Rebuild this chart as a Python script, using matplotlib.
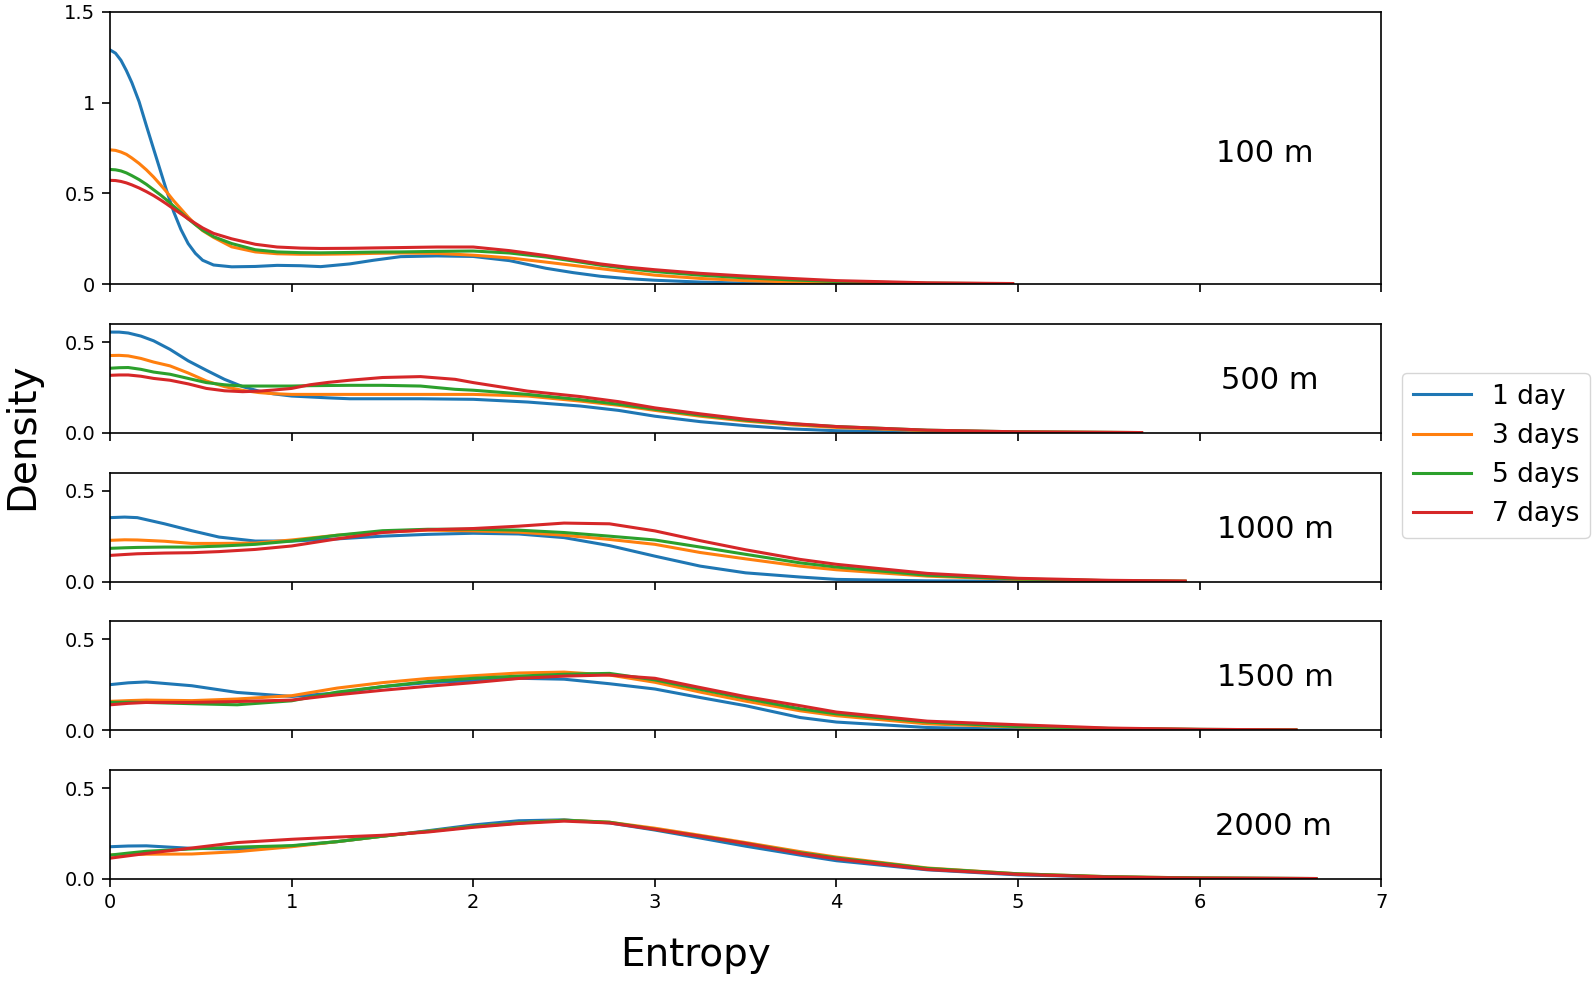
import matplotlib
matplotlib.use("Agg")
import matplotlib.pyplot as plt

depths = ["100 m", "500 m", "1000 m", "1500 m", "2000 m"]
series = ["1 day", "3 days", "5 days", "7 days"]
colors = ["#1f77b4", "#ff7f0e", "#2ca02c", "#d62728"]

# 100 m
x100 = [0, 0.03, 0.06, 0.09, 0.12, 0.16, 0.2, 0.24, 0.28, 0.31, 0.35, 0.39, 0.43, 0.47,
        0.51, 0.57, 0.67, 0.8, 0.92, 1.05, 1.16, 1.32, 1.45, 1.6, 1.8, 2.0, 2.2, 2.4,
        2.55, 2.7, 2.85, 3.0, 3.25, 3.5, 3.75, 4.0, 4.5, 4.97]
d100 = [
    [1.29, 1.272, 1.233, 1.176, 1.11, 1.005, 0.873, 0.744, 0.616, 0.52, 0.4, 0.302, 0.224,
     0.17, 0.132, 0.106, 0.096, 0.098, 0.104, 0.102, 0.097, 0.112, 0.132, 0.152, 0.156,
     0.153, 0.13, 0.088, 0.064, 0.044, 0.031, 0.022, 0.012, 0.006, 0.003, 0.002, 0.001, 0.0],
    [0.74, 0.737, 0.728, 0.715, 0.695, 0.665, 0.63, 0.59, 0.545, 0.51, 0.46, 0.415, 0.37,
     0.33, 0.295, 0.258, 0.206, 0.178, 0.168, 0.165, 0.165, 0.167, 0.17, 0.172, 0.17,
     0.16, 0.145, 0.122, 0.104, 0.086, 0.068, 0.05, 0.032, 0.02, 0.013, 0.008, 0.003, 0.001],
    [0.632, 0.63, 0.624, 0.613, 0.598, 0.576, 0.55, 0.52, 0.49, 0.465, 0.43, 0.395, 0.36,
     0.328, 0.298, 0.262, 0.224, 0.19, 0.178, 0.174, 0.173, 0.175, 0.177, 0.178, 0.181,
     0.183, 0.172, 0.15, 0.128, 0.105, 0.086, 0.07, 0.05, 0.035, 0.024, 0.015, 0.006, 0.003],
    [0.572, 0.571, 0.566, 0.558, 0.547, 0.53, 0.51, 0.488, 0.463, 0.443, 0.415, 0.388, 0.36,
     0.335, 0.31, 0.28, 0.25, 0.22, 0.205, 0.199, 0.197, 0.198, 0.2, 0.202, 0.205,
     0.205, 0.185, 0.158, 0.135, 0.112, 0.094, 0.08, 0.06, 0.045, 0.032, 0.02, 0.008, 0.004],
]

# 500 m
x500 = [0, 0.05, 0.1, 0.17, 0.24, 0.33, 0.43, 0.53, 0.63, 0.73, 0.82, 0.9, 1.0, 1.1,
        1.2, 1.32, 1.5, 1.71, 1.9, 2.0, 2.3, 2.59, 2.8, 3.0, 3.25, 3.5, 3.75, 4.0,
        4.5, 5.0, 5.68]
d500 = [
    [0.555, 0.555, 0.55, 0.533, 0.507, 0.46, 0.397, 0.345, 0.295, 0.255, 0.23, 0.215,
     0.203, 0.198, 0.193, 0.188, 0.188, 0.188, 0.186, 0.185, 0.17, 0.148, 0.124, 0.092,
     0.062, 0.04, 0.022, 0.012, 0.004, 0.002, 0.001],
    [0.426, 0.427, 0.424, 0.41, 0.39, 0.369, 0.33, 0.286, 0.255, 0.234, 0.222, 0.216,
     0.212, 0.212, 0.212, 0.212, 0.212, 0.212, 0.212, 0.212, 0.203, 0.175, 0.152, 0.124,
     0.092, 0.065, 0.045, 0.03, 0.012, 0.005, 0.002],
    [0.356, 0.359, 0.36, 0.35, 0.335, 0.323, 0.30, 0.277, 0.265, 0.258, 0.258, 0.258,
     0.258, 0.26, 0.261, 0.262, 0.262, 0.258, 0.24, 0.235, 0.212, 0.183, 0.158, 0.13,
     0.098, 0.07, 0.05, 0.035, 0.015, 0.006, 0.002],
    [0.317, 0.319, 0.319, 0.312, 0.30, 0.29, 0.27, 0.245, 0.232, 0.227, 0.23, 0.236,
     0.245, 0.265, 0.278, 0.29, 0.305, 0.31, 0.295, 0.277, 0.23, 0.20, 0.172, 0.138,
     0.105, 0.075, 0.052, 0.035, 0.015, 0.006, 0.002],
]

# 1000 m
x1000 = [0, 0.08, 0.15, 0.3, 0.45, 0.6, 0.8, 1.0, 1.25, 1.5, 1.75, 2.0, 2.25, 2.5, 2.75,
         3.0, 3.25, 3.5, 3.8, 4.0, 4.5, 5.0, 5.5, 5.92]
d1000 = [
    [0.352, 0.355, 0.352, 0.318, 0.28, 0.245, 0.223, 0.223, 0.235, 0.25, 0.26, 0.266,
     0.262, 0.242, 0.198, 0.14, 0.085, 0.048, 0.025, 0.012, 0.004, 0.002, 0.001, 0.0],
    [0.227, 0.23, 0.229, 0.222, 0.21, 0.21, 0.212, 0.229, 0.255, 0.272, 0.283, 0.279,
     0.272, 0.255, 0.232, 0.205, 0.16, 0.125, 0.085, 0.065, 0.03, 0.012, 0.005, 0.002],
    [0.183, 0.186, 0.188, 0.19, 0.19, 0.195, 0.205, 0.223, 0.255, 0.28, 0.288, 0.288,
     0.283, 0.27, 0.25, 0.229, 0.19, 0.15, 0.103, 0.08, 0.035, 0.014, 0.005, 0.002],
    [0.144, 0.149, 0.153, 0.157, 0.159, 0.165, 0.177, 0.196, 0.235, 0.27, 0.285, 0.292,
     0.305, 0.322, 0.318, 0.279, 0.225, 0.175, 0.122, 0.095, 0.045, 0.018, 0.007, 0.003],
]

# 1500 m
x1500 = [0, 0.1, 0.2, 0.45, 0.7, 1.0, 1.25, 1.5, 1.75, 2.0, 2.25, 2.5, 2.75, 3.0, 3.25,
         3.5, 3.8, 4.0, 4.5, 5.0, 5.5, 6.0, 6.53]
d1500 = [
    [0.251, 0.261, 0.266, 0.245, 0.208, 0.186, 0.205, 0.24, 0.262, 0.273, 0.286, 0.281,
     0.256, 0.227, 0.18, 0.135, 0.07, 0.045, 0.015, 0.005, 0.002, 0.001, 0.0],
    [0.159, 0.163, 0.166, 0.163, 0.172, 0.19, 0.232, 0.262, 0.285, 0.30, 0.315, 0.32,
     0.304, 0.264, 0.21, 0.16, 0.107, 0.08, 0.035, 0.018, 0.008, 0.004, 0.002],
    [0.153, 0.154, 0.153, 0.146, 0.14, 0.162, 0.21, 0.24, 0.268, 0.286, 0.298, 0.308,
     0.313, 0.277, 0.225, 0.175, 0.118, 0.09, 0.045, 0.02, 0.01, 0.005, 0.002],
    [0.14, 0.148, 0.153, 0.153, 0.158, 0.166, 0.195, 0.22, 0.242, 0.262, 0.285, 0.298,
     0.304, 0.286, 0.235, 0.185, 0.135, 0.1, 0.05, 0.03, 0.012, 0.005, 0.002],
]

# 2000 m
x2000 = [0, 0.1, 0.2, 0.45, 0.7, 1.0, 1.25, 1.5, 1.75, 2.0, 2.25, 2.5, 2.75, 3.0, 3.25,
         3.5, 3.8, 4.0, 4.5, 5.0, 5.5, 6.0, 6.64]
d2000 = [
    [0.177, 0.181, 0.182, 0.168, 0.165, 0.181, 0.205, 0.235, 0.265, 0.297, 0.32, 0.325,
     0.308, 0.269, 0.225, 0.18, 0.131, 0.1, 0.05, 0.022, 0.01, 0.004, 0.002],
    [0.131, 0.134, 0.136, 0.137, 0.15, 0.177, 0.205, 0.235, 0.262, 0.288, 0.308, 0.323,
     0.312, 0.279, 0.24, 0.2, 0.15, 0.12, 0.06, 0.028, 0.012, 0.005, 0.002],
    [0.131, 0.142, 0.152, 0.165, 0.175, 0.183, 0.205, 0.235, 0.262, 0.288, 0.308, 0.323,
     0.312, 0.273, 0.235, 0.195, 0.144, 0.115, 0.058, 0.028, 0.012, 0.005, 0.002],
    [0.114, 0.127, 0.14, 0.17, 0.2, 0.218, 0.23, 0.24, 0.258, 0.284, 0.305, 0.318,
     0.308, 0.273, 0.235, 0.195, 0.14, 0.11, 0.052, 0.025, 0.01, 0.004, 0.002],
]

xs = [x100, x500, x1000, x1500, x2000]
ds = [d100, d500, d1000, d1500, d2000]
label_x = [0.908, 0.912, 0.917, 0.917, 0.915]

fig = plt.figure(figsize=(15.95, 9.82), dpi=100)
gs = fig.add_gridspec(5, 1, height_ratios=[2.5, 1, 1, 1, 1], left=0.069, right=0.866,
                      top=0.988, bottom=0.105, hspace=0.28)

axes = []
for i in range(5):
    ax = fig.add_subplot(gs[i])
    for j in range(4):
        ax.plot(xs[i], ds[i][j], color=colors[j], lw=2.2, label=series[j],
                solid_joinstyle="round")
    ax.set_xlim(0, 7)
    ax.set_xticks(range(8))
    if i == 0:
        ax.set_ylim(0, 1.5)
        ax.set_yticks([0, 0.5, 1, 1.5])
        ax.set_yticklabels(["0", "0.5", "1", "1.5"])
    else:
        ax.set_ylim(0, 0.6)
        ax.set_yticks([0, 0.5])
        ax.set_yticklabels(["0.0", "0.5"])
    if i < 4:
        ax.set_xticklabels([])
    ax.tick_params(labelsize=14, length=5.5, width=1.2, pad=5)
    for sp in ax.spines.values():
        sp.set_linewidth(1.2)
    ax.text(label_x[i], 0.48, depths[i], transform=ax.transAxes, fontsize=22,
            ha="center", va="center")
    axes.append(ax)

handles, labels = axes[0].get_legend_handles_labels()
fig.legend(handles, labels, loc="upper left", bbox_to_anchor=(0.879, 0.620),
           fontsize=19, borderaxespad=0, handlelength=2.2)

fig.text(0.014, 0.556, "Density", rotation=90, ha="center", va="center", fontsize=28)
fig.text(0.436, 0.027, "Entropy", ha="center", va="center", fontsize=28)

fig.savefig("out.png", dpi=100)
